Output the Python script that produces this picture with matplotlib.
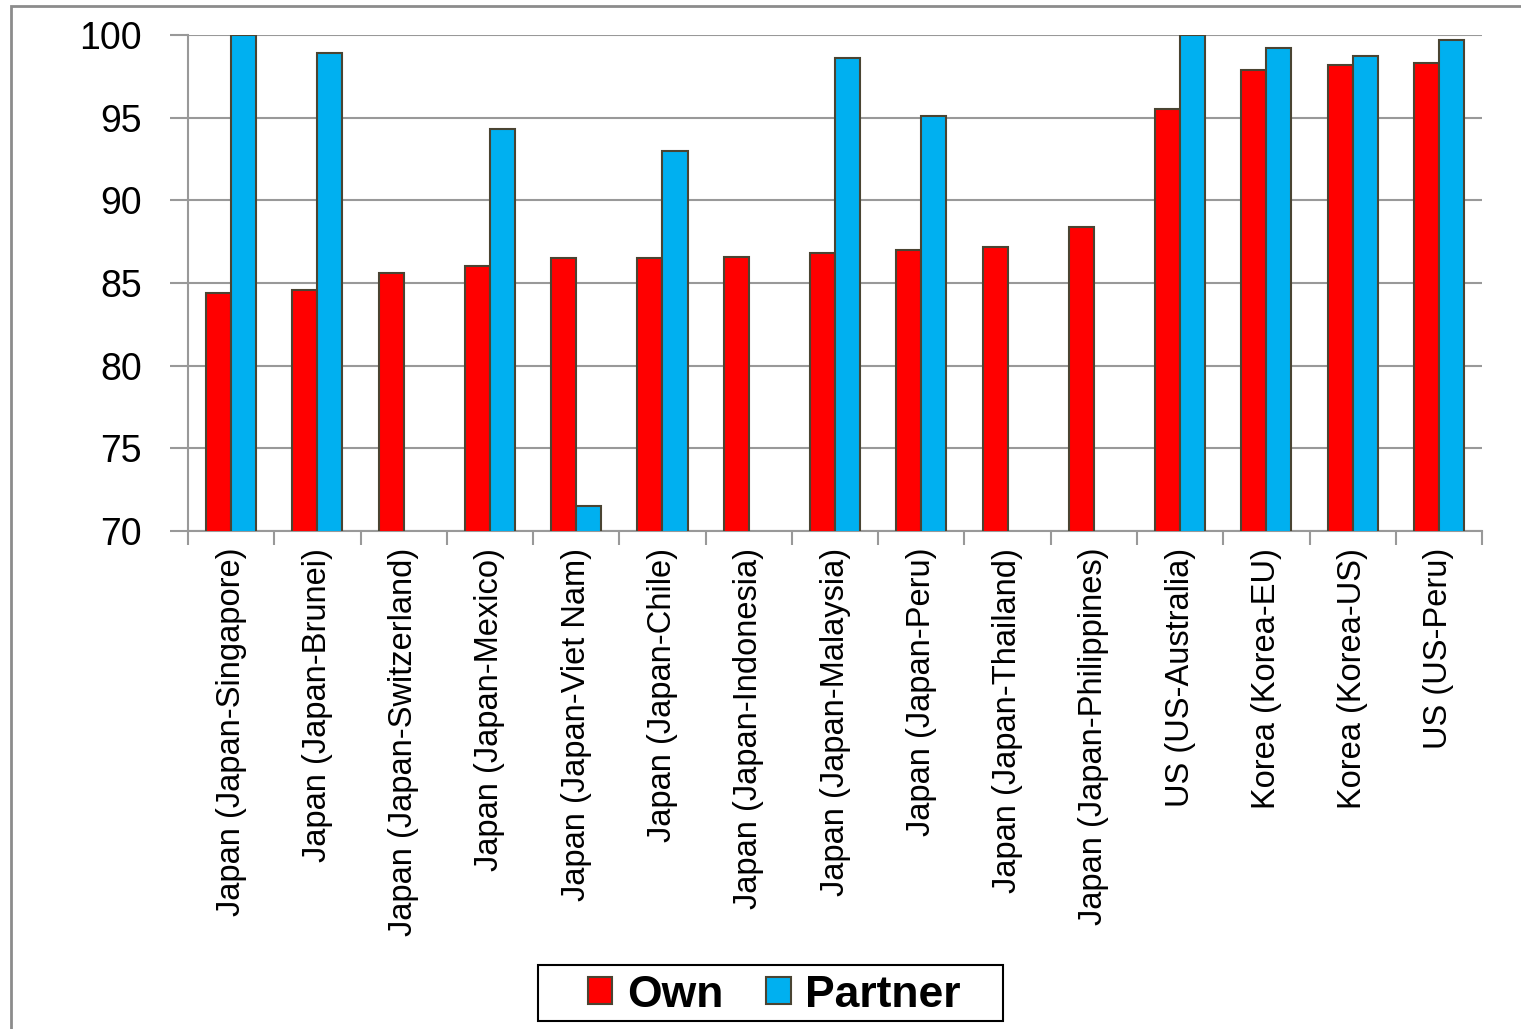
import matplotlib
matplotlib.use("Agg")
import matplotlib.pyplot as plt
import numpy as np

# categories and values
categories = ["Japan (Japan-Singapore)", "Japan (Japan-Brunei)", "Japan (Japan-Switzerland)",
              "Japan (Japan-Mexico)", "Japan (Japan-Viet Nam)", "Japan (Japan-Chile)",
              "Japan (Japan-Indonesia)", "Japan (Japan-Malaysia)", "Japan (Japan-Peru)",
              "Japan (Japan-Thailand)", "Japan (Japan-Philippines)", "US (US-Australia)",
              "Korea (Korea-EU)", "Korea (Korea-US)", "US (US-Peru)"]
own = [84.4, 84.6, 85.6, 86.0, 86.5, 86.5, 86.6, 86.8, 87.0, 87.2, 88.4, 95.5, 97.9, 98.2, 98.3]
partner = [100, 98.9, np.nan, 94.3, 71.5, 93.0, np.nan, 98.6, 95.1, np.nan, np.nan, 100, 99.2, 98.7, 99.7]

plt.rcParams['font.family'] = ['Liberation Sans', 'DejaVu Sans']

fig = plt.figure(figsize=(15.21, 10.29), dpi=100)
ax = fig.add_axes([0.1236, 0.484, 0.8508, 0.482])

# outer chart border
fig.patches.append(plt.Rectangle((0.007, -0.01), 1.1, 1.004, transform=fig.transFigure,
                                 fill=False, edgecolor="#8c8c8c", linewidth=2))

x = np.arange(len(categories))
w = 0.29
edge = "#4a4432"
ax.bar(x - w / 2, own, w, color="#ff0000", edgecolor=edge, linewidth=1.5, label="Own", zorder=3)
ax.bar(x + w / 2, partner, w, color="#00b0f0", edgecolor=edge, linewidth=1.5, label="Partner", zorder=3)

ax.set_ylim(70, 100)
ax.set_xlim(-0.5, len(categories) - 0.5)
ax.set_yticks([70, 75, 80, 85, 90, 95, 100])
ax.yaxis.grid(True, color="#999999", linewidth=1.5, zorder=0)
ax.tick_params(axis="y", labelsize=27, length=13, width=1.5, color="#999999", pad=20)

ax.set_xticks(x)
ax.set_xticklabels(categories, rotation=90, fontsize=23.5)
ax.set_xticks(np.arange(-0.5, len(categories)), minor=True)
ax.tick_params(axis="x", which="major", length=0, pad=12)
ax.tick_params(axis="x", which="minor", length=10, width=1.5, color="#999999")

for s in ["top", "right"]:
    ax.spines[s].set_visible(False)
for s in ["left", "bottom"]:
    ax.spines[s].set_color("#999999")
    ax.spines[s].set_linewidth(1.5)

# legend box drawn separately so it can be wider than the entries
fig.patches.append(plt.Rectangle((0.3537, 0.0078), 0.3057, 0.0544, transform=fig.transFigure,
                                 fill=False, edgecolor="black", linewidth=1.5))
leg = fig.legend(loc="center", bbox_to_anchor=(0.509, 0.033), ncol=2, frameon=False,
                 prop={"weight": "bold", "size": 32}, handlelength=0.56, handleheight=0.56,
                 handletextpad=0.33, columnspacing=0.95, borderpad=0.1)

fig.savefig("out.png", dpi=100)
